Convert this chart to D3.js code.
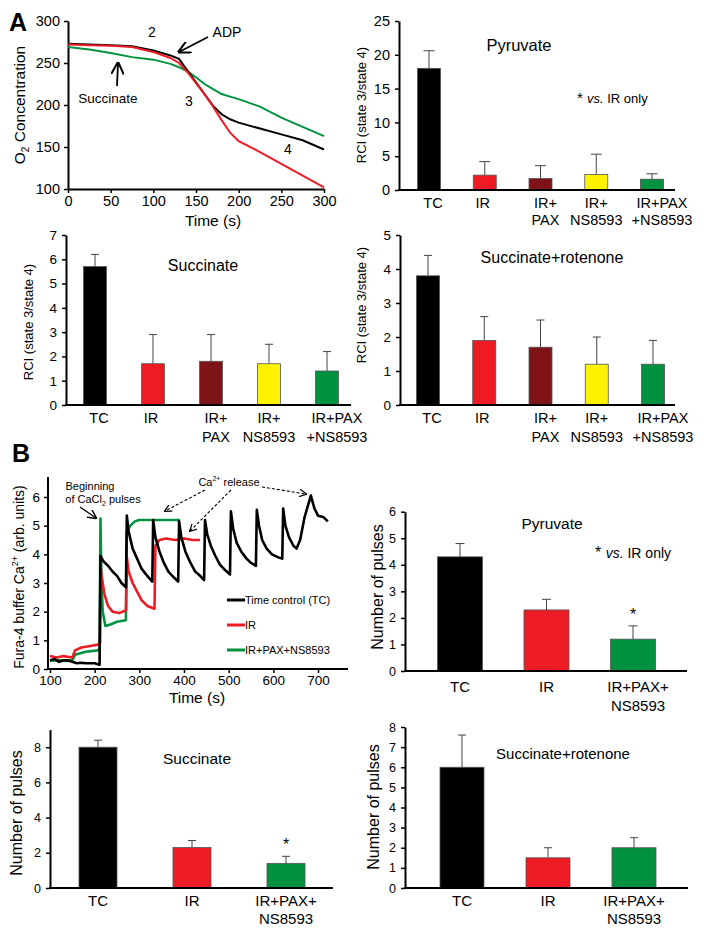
<!DOCTYPE html>
<html><head><meta charset="utf-8">
<script src="https://cdn.jsdelivr.net/npm/d3@7"></script>
<style>body{margin:0;background:#fff}svg{display:block;font-family:"Liberation Sans",Arial,sans-serif}</style>
</head><body>
<script>
// ---------- DATA ----------
const timeA = [0,25,50,75,100,120,130,140,150,160,170,180,190,200,225,250,275,300];
const o2TC = [273,272,271,270,265,259,255,241,227,213,199,189,183,179,172,165,158,147];
const o2IR = [272,271,270.5,269,263,256,250,239,226,213,198,182,167,157,144,130,116,102];
const o2PN = [269,266,262,257,254,249,245,240,233,225,219,213,210,207,198,185,174,163];
const timeTicksA = [0,50,100,150,200,250,300];
const o2Ticks = [100,150,200,250,300];

const catsA = ["TC","IR","IR+PAX","IR+NS8593","IR+PAX+NS8593"];
const catLabelsA = [["TC",""],["IR",""],["IR+","PAX"],["IR+","NS8593"],["IR+PAX","+NS8593"]];
const colorsA = ["#000000","#ed1c24","#7f1416","#fff200","#00923f"];
const rciPyruvate = [18,2.2,1.7,2.3,1.6];
const rciPyruvateErr = [2.6,2.0,1.9,3.0,0.8];
const rciSuccinate = [5.7,1.7,1.8,1.7,1.4];
const rciSuccinateErr = [0.5,1.2,1.1,0.8,0.8];
const rciSuccRot = [3.8,1.9,1.7,1.2,1.2];
const rciSuccRotErr = [0.6,0.7,0.8,0.8,0.7];

const catsB = ["TC","IR","IR+PAX+NS8593"];
const catLabelsB = [["TC",""],["IR",""],["IR+PAX+","NS8593"]];
const colorsB = ["#000000","#ed1c24","#00923f"];
const pulsesPyruvate = [4.3,2.3,1.2];
const pulsesPyruvateErr = [0.5,0.4,0.5];
const pulsesSuccinate = [8.0,2.3,1.4];
const pulsesSuccinateErr = [0.4,0.4,0.4];
const pulsesSuccRot = [6.0,1.5,2.0];
const pulsesSuccRotErr = [1.6,0.5,0.5];

const traceTC = [[100,0.3],[110,0.35],[120,0.25],[130,0.3],[140,0.3],[150,0.25],[160,0.2],[170,0.22],[180,0.2],[190,0.2],[200,0.2],[211,0.15],
 [213,3.95],[220,3.75],[230,3.6],[240,3.4],[250,3.25],[260,3.0],[270,2.85],
 [272,5.35],[276,4.8],[285,4.2],[295,3.85],[305,3.5],[315,3.3],[329,3.05],
 [331,5.2],[336,4.6],[345,4.1],[355,3.7],[365,3.4],[377,3.2],[387,3.05],
 [389,5.15],[394,4.6],[403,4.1],[413,3.75],[425,3.4],[436,3.25],[445,3.1],
 [447,5.2],[452,4.7],[460,4.3],[470,3.95],[480,3.65],[492,3.45],[503,3.3],
 [505,5.5],[510,4.9],[518,4.4],[528,4.1],[540,3.85],[550,3.7],[561,3.6],
 [563,5.55],[568,5.0],[575,4.5],[585,4.2],[597,4.0],[610,3.9],[620,3.85],
 [622,5.6],[627,5.0],[635,4.6],[645,4.3],[652,4.2],[660,4.5],[670,5.3],[684,6.05],[692,5.6],[700,5.35],[712,5.3],[722,5.15]];
const traceIR = [[100,0.45],[115,0.4],[130,0.45],[150,0.4],[156,0.65],[170,0.75],[190,0.8],[207,0.85],[212,0.9],
 [213,3.6],[216,3.2],[222,2.6],[230,2.2],[240,2.0],[255,1.95],[270,2.05],
 [272,3.9],[276,3.4],[285,3.0],[295,2.7],[305,2.4],[318,2.2],[334,2.1],
 [336,4.3],[345,4.5],[360,4.55],[380,4.5],[400,4.55],[420,4.5],[436,4.5]];
const tracePN = [[100,0.3],[115,0.3],[130,0.3],[150,0.3],[156,0.5],[180,0.6],[207,0.65],[211,0.7],
 [213,5.25],[215,3.2],[218,2.0],[224,1.5],[235,1.55],[250,1.65],[270,1.7],
 [272,4.8],[280,5.0],[290,5.15],[300,5.2],[330,5.2],[360,5.2],[391,5.2]];
const traceTimeTicks = [100,200,300,400,500,600,700];
const traceYTicks = [0,1,2,3,4,5,6];
const traceLegend = ["Time control (TC)","IR","IR+PAX+NS8593"];

// ---------- DRAW ----------
const fmt = d3.format("d");
const svg = d3.select("body").append("svg").attr("width",704).attr("height",935);
const defs = svg.append("defs");
defs.append("marker").attr("id","ah").attr("viewBox","0 0 10 10").attr("refX",9).attr("refY",5)
  .attr("markerWidth",7).attr("markerHeight",7).attr("orient","auto-start-reverse")
  .append("path").attr("d","M0,0 L10,5 L0,10").attr("fill","none").attr("stroke","#000").attr("stroke-width",1.6);

function styleAxis(g, w){
  g.select(".domain").attr("stroke","#000").attr("stroke-width",w||2);
  g.selectAll(".tick line").attr("stroke","#000").attr("stroke-width",1.5);
  g.selectAll(".tick text").attr("fill","#000");
}

// Panel labels
svg.append("text").attr("x",9).attr("y",31).attr("font-size",25).attr("font-weight","bold").text("A");
svg.append("text").attr("x",12).attr("y",462).attr("font-size",25).attr("font-weight","bold").text("B");

// ---- A: O2 trace ----
(function(){
  const x = d3.scaleLinear().domain([0,300]).range([68,324]);
  const y = d3.scaleLinear().domain([100,300]).range([189,21]);
  const g = svg.append("g");
  const gx = g.append("g").attr("transform","translate(0,189)")
    .call(d3.axisBottom(x).tickValues(timeTicksA).tickFormat(fmt).tickSize(4).tickSizeOuter(0).tickPadding(3));
  gx.selectAll("text").attr("font-size",14.5);
  styleAxis(gx);
  const gy = g.append("g").attr("transform","translate(68,0)")
    .call(d3.axisLeft(y).tickValues(o2Ticks).tickFormat(fmt).tickSize(4).tickSizeOuter(0).tickPadding(4));
  gy.selectAll("text").attr("font-size",14.5);
  styleAxis(gy);
  const line = d3.line().x(d=>x(d[0])).y(d=>y(d[1]));
  [[o2PN,"#00923f"],[o2TC,"#000"],[o2IR,"#ed1c24"]].forEach(([s,c])=>{
    g.append("path").datum(timeA.map((t,i)=>[t,s[i]])).attr("d",line)
      .attr("fill","none").attr("stroke",c).attr("stroke-width",2);
  });
  g.append("text").attr("x",213).attr("y",226).attr("text-anchor","middle").attr("font-size",15.5).text("Time (s)");
  const yl = g.append("text").attr("transform","translate(25,105) rotate(-90)").attr("text-anchor","middle").attr("font-size",15.5);
  yl.append("tspan").text("O");
  yl.append("tspan").attr("font-size",10).attr("dy",4).text("2");
  yl.append("tspan").attr("dy",-4).text(" Concentration");
  g.append("text").attr("x",152).attr("y",37).attr("text-anchor","middle").attr("font-size",14).text("2");
  g.append("text").attr("x",227).attr("y",37).attr("text-anchor","middle").attr("font-size",14).text("ADP");
  g.append("text").attr("x",189).attr("y",106).attr("text-anchor","middle").attr("font-size",14).text("3");
  g.append("text").attr("x",288).attr("y",154).attr("text-anchor","middle").attr("font-size",14).text("4");
  g.append("text").attr("x",108).attr("y",103).attr("text-anchor","middle").attr("font-size",13.5).text("Succinate");
  g.append("line").attr("x1",208).attr("y1",37).attr("x2",179).attr("y2",52).attr("stroke","#000").attr("stroke-width",1.8).attr("marker-end","url(#ah)");
  g.append("line").attr("x1",117).attr("y1",86).attr("x2",118).attr("y2",63).attr("stroke","#000").attr("stroke-width",1.8).attr("marker-end","url(#ah)");
})();

// ---- Generic bar panel ----
function barPanel(o){
  const g = svg.append("g");
  const x = d3.scalePoint().domain(o.cats).range([o.first,o.last]);
  const y = d3.scaleLinear().domain([0,o.ymax]).range([o.y0,o.y1]);
  const gy = g.append("g").attr("transform",`translate(${o.axisX},0)`)
    .call(d3.axisLeft(y).tickValues(o.ticks).tickFormat(fmt).tickSize(4).tickSizeOuter(0).tickPadding(5));
  gy.selectAll("text").attr("font-size",o.tickFont);
  styleAxis(gy);
  o.cats.forEach((c,i)=>{
    const cx = x(c), top = y(o.vals[i]+o.errs[i]);
    g.append("line").attr("x1",cx).attr("x2",cx).attr("y1",y(o.vals[i])).attr("y2",top).attr("stroke","#444").attr("stroke-width",1);
    g.append("line").attr("x1",cx-o.cap/2).attr("x2",cx+o.cap/2).attr("y1",top).attr("y2",top).attr("stroke","#444").attr("stroke-width",1);
  });
  g.selectAll("rect.bar").data(o.cats).enter().append("rect")
    .attr("x",c=>x(c)-o.barW/2).attr("width",o.barW)
    .attr("y",(c,i)=>y(o.vals[i])).attr("height",(c,i)=>o.y0-y(o.vals[i]))
    .attr("fill",(c,i)=>o.colors[i]).attr("stroke","#555").attr("stroke-width",0.8);
  g.append("line").attr("x1",o.axisX-1).attr("x2",o.axisEnd).attr("y1",o.y0).attr("y2",o.y0).attr("stroke","#000").attr("stroke-width",2);
  const sh = o.shift || o.cats.map(()=>0);
  o.cats.forEach((c,i)=>{
    const t = g.append("text").attr("text-anchor","middle").attr("font-size",o.catFont);
    t.append("tspan").attr("x",x(c)+sh[i]).attr("y",o.lab1).text(o.labels[i][0]);
    if(o.labels[i][1]) t.append("tspan").attr("x",x(c)+sh[i]).attr("y",o.lab2).text(o.labels[i][1]);
  });
  g.append("text").attr("transform",`translate(${o.ylX},${o.ylY}) rotate(-90)`).attr("text-anchor","middle")
    .attr("font-size",o.ylFont).text(o.ylabel);
  g.append("text").attr("x",o.tX).attr("y",o.tY).attr("text-anchor","middle").attr("font-size",o.tFont).text(o.title);
  if(o.star!=null){
    const i=o.star;
    g.append("text").attr("x",x(o.cats[i])).attr("y",y(o.vals[i]+o.errs[i])-6).attr("text-anchor","middle").attr("font-size",16).text("*");
  }
  return g;
}

function vsNote(g,xp,yp,fs){
  const t = g.append("text").attr("x",xp).attr("y",yp).attr("font-size",fs);
  t.append("tspan").attr("font-size",fs+2).text("* ");
  t.append("tspan").attr("font-style","italic").text("vs.");
  t.append("tspan").text(" IR only");
}

const shiftA = [4,-2,5,0,10];

// A Pyruvate
const gAP = barPanel({cats:catsA,labels:catLabelsA,colors:colorsA,vals:rciPyruvate,errs:rciPyruvateErr,
  axisX:399,axisEnd:675,first:429,last:652,y0:190,y1:21,ymax:25,ticks:[0,5,10,15,20,25],tickFont:14.5,
  barW:23,cap:11,catFont:14.5,lab1:208,lab2:225,shift:shiftA,ylabel:"RCI (state 3/state 4)",ylX:366,ylY:105,ylFont:13,
  title:"Pyruvate",tX:519,tY:51,tFont:16.5});
vsNote(gAP,577,103,13);

// A Succinate
barPanel({cats:catsA,labels:catLabelsA,colors:colorsA,vals:rciSuccinate,errs:rciSuccinateErr,
  axisX:66,axisEnd:351,first:95,last:327,y0:405,y1:235,ymax:7,ticks:[0,1,2,3,4,5,6,7],tickFont:13.5,
  barW:23,cap:8,catFont:14.5,lab1:423,lab2:442,shift:shiftA,ylabel:"RCI (state 3/state 4)",ylX:33,ylY:322,ylFont:13,
  title:"Succinate",tX:203,tY:271,tFont:16});

// A Succinate+rotenone
barPanel({cats:catsA,labels:catLabelsA,colors:colorsA,vals:rciSuccRot,errs:rciSuccRotErr,
  axisX:400,axisEnd:675,first:428,last:653,y0:405,y1:235,ymax:5,ticks:[0,1,2,3,4,5],tickFont:13.5,
  barW:23,cap:8,catFont:14.5,lab1:423,lab2:442,shift:shiftA,ylabel:"RCI (state 3/state 4)",ylX:366,ylY:305,ylFont:13,
  title:"Succinate+rotenone",tX:552,tY:263,tFont:16});

// ---- B: Ca trace ----
(function(){
  const x = d3.scaleLinear().domain([100,700]).range([50,318]);
  const y = d3.scaleLinear().domain([0,6]).range([669,497]);
  const g = svg.append("g");
  const line = d3.line().x(d=>x(d[0])).y(d=>y(d[1]));
  [[tracePN,"#00923f"],[traceIR,"#ed1c24"],[traceTC,"#000"]].forEach(([s,c])=>{
    g.append("path").datum(s).attr("d",line).attr("fill","none").attr("stroke",c).attr("stroke-width",2.6).attr("stroke-linejoin","round");
  });
  const gx = g.append("g").attr("transform","translate(0,669)")
    .call(d3.axisBottom(x).tickValues(traceTimeTicks).tickFormat(fmt).tickSize(4).tickSizeOuter(0).tickPadding(2));
  gx.select(".domain").remove();
  gx.selectAll("text").attr("font-size",13.5);
  styleAxis(gx);
  g.append("line").attr("x1",47).attr("x2",348).attr("y1",669).attr("y2",669).attr("stroke","#000").attr("stroke-width",2);
  const gy = g.append("g").attr("transform","translate(48,0)")
    .call(d3.axisLeft(y).tickValues(traceYTicks).tickFormat(fmt).tickSize(4).tickSizeOuter(0).tickPadding(4));
  gy.select(".domain").remove();
  gy.selectAll("text").attr("font-size",13.5);
  styleAxis(gy);
  g.append("line").attr("x1",48).attr("x2",48).attr("y1",477).attr("y2",670).attr("stroke","#000").attr("stroke-width",2);
  g.append("text").attr("x",197).attr("y",703).attr("text-anchor","middle").attr("font-size",15.5).text("Time (s)");
  const yl = g.append("text").attr("transform","translate(24,577) rotate(-90)").attr("text-anchor","middle").attr("font-size",14);
  yl.append("tspan").text("Fura-4 buffer Ca");
  yl.append("tspan").attr("font-size",9).attr("dy",-6).text("2+");
  yl.append("tspan").attr("dy",6).text(" (arb. units)");
  const ly = [600,625,650], lc = ["#000","#ed1c24","#00923f"];
  traceLegend.forEach((t,i)=>{
    g.append("line").attr("x1",227).attr("x2",245).attr("y1",ly[i]).attr("y2",ly[i]).attr("stroke",lc[i]).attr("stroke-width",3);
    g.append("text").attr("x",245).attr("y",ly[i]+4).attr("font-size",11).text(t);
  });
  g.append("text").attr("x",90).attr("y",490).attr("text-anchor","middle").attr("font-size",11).text("Beginning");
  const t2 = g.append("text").attr("x",103).attr("y",503).attr("text-anchor","middle").attr("font-size",11);
  t2.append("tspan").text("of CaCl");
  t2.append("tspan").attr("font-size",7).attr("dy",3).text("2");
  t2.append("tspan").attr("dy",-3).text(" pulses");
  g.append("line").attr("x1",80).attr("y1",507).attr("x2",96).attr("y2",518).attr("stroke","#000").attr("stroke-width",1.3).attr("marker-end","url(#ah)");
  const t3 = g.append("text").attr("x",229).attr("y",486).attr("text-anchor","middle").attr("font-size",11);
  t3.append("tspan").text("Ca");
  t3.append("tspan").attr("font-size",7).attr("dy",-5).text("2+");
  t3.append("tspan").attr("dy",5).text(" release");
  [[205,490,165,511],[231,490,190,531],[262,487,306,494]].forEach(a=>{
    g.append("line").attr("x1",a[0]).attr("y1",a[1]).attr("x2",a[2]).attr("y2",a[3]).attr("stroke","#000")
      .attr("stroke-width",1.1).attr("stroke-dasharray","3,2").attr("marker-end","url(#ah)");
  });
})();

// B Pyruvate
const gBP = barPanel({cats:catsB,labels:catLabelsB,colors:colorsB,vals:pulsesPyruvate,errs:pulsesPyruvateErr,
  axisX:405,axisEnd:687,first:460,last:633,y0:671,y1:511.7,ymax:6,ticks:[0,1,2,3,4,5,6],tickFont:12.5,
  barW:45,cap:9,catFont:15,lab1:692,lab2:711,shift:[0,0,5],ylabel:"Number of pulses",ylX:383,ylY:587,ylFont:16,
  title:"Pyruvate",tX:552,tY:529,tFont:15.5,star:2});
vsNote(gBP,595,558,14);

// B Succinate
barPanel({cats:catsB,labels:catLabelsB,colors:colorsB,vals:pulsesSuccinate,errs:pulsesSuccinateErr,
  axisX:50,axisEnd:333,first:98,last:286,y0:888,y1:729.6,ymax:9,ticks:[0,2,4,6,8],tickFont:12.5,
  barW:38,cap:8,catFont:15,lab1:906,lab2:924,ylabel:"Number of pulses",ylX:22,ylY:813,ylFont:16,
  title:"Succinate",tX:197,tY:764,tFont:15.5,star:2});

// B Succinate+rotenone
barPanel({cats:catsB,labels:catLabelsB,colors:colorsB,vals:pulsesSuccRot,errs:pulsesSuccRotErr,
  axisX:405,axisEnd:688,first:462,last:634,y0:888,y1:727,ymax:8,ticks:[0,1,2,3,4,5,6,7,8],tickFont:12.5,
  barW:44,cap:8,catFont:15,lab1:906,lab2:924,ylabel:"Number of pulses",ylX:379,ylY:807,ylFont:16,
  title:"Succinate+rotenone",tX:563,tY:759,tFont:15});
</script>
</body></html>
